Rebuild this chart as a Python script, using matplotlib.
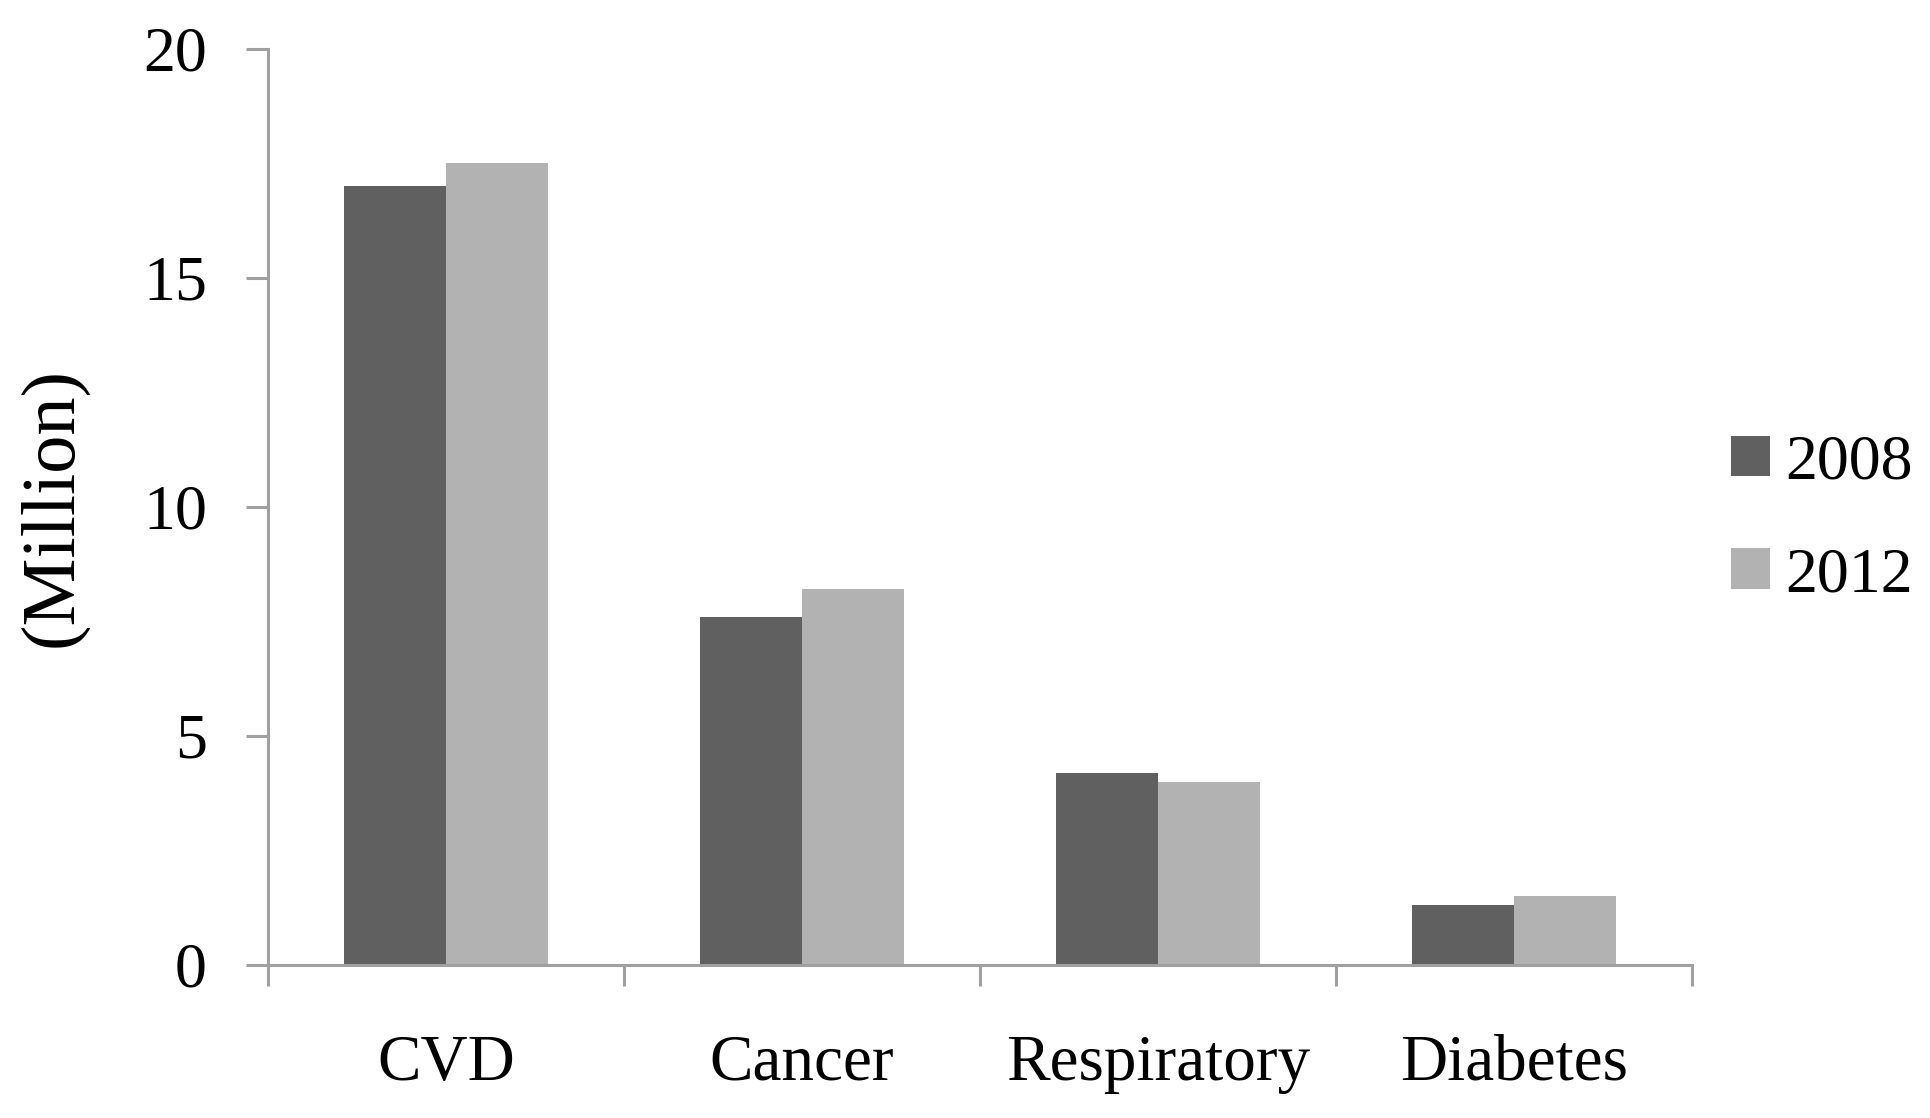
import matplotlib.pyplot as plt
import numpy as np

# Datos
categories = ['CVD', 'Cancer', 'Respiratory', 'Diabetes']
years = ['2008', '2012']
deaths_2008 = [17.0, 7.6, 4.2, 1.3]
deaths_2012 = [17.5, 8.2, 4.0, 1.5]

colors = {'2008': '#606060', '2012': '#b2b2b2'}
axis_color = '#a0a0a0'

plt.rcParams['font.family'] = ['Liberation Serif', 'DejaVu Serif']

fig = plt.figure(figsize=(19.3, 11.18), dpi=100)
ax = fig.add_axes([0.1389, 0.1369, 0.8768 - 0.1389, 0.9562 - 0.1369])

x = np.arange(len(categories))
w = 0.287
ax.bar(x - w / 2, deaths_2008, width=w, color=colors['2008'], label='2008')
ax.bar(x + w / 2, deaths_2012, width=w, color=colors['2012'], label='2012')

ax.set_xlim(-0.5, len(categories) - 0.5)
ax.set_ylim(0, 20)
ax.set_yticks([0, 5, 10, 15, 20])

# Ejes
for side in ['top', 'right']:
    ax.spines[side].set_visible(False)
for side in ['left', 'bottom']:
    ax.spines[side].set_color(axis_color)
    ax.spines[side].set_linewidth(2.2)

ax.set_xticks(x)
ax.set_xticklabels(categories)
ax.set_xticks(np.arange(-0.5, len(categories)), minor=True)
ax.tick_params(axis='x', which='major', length=0, pad=50, labelsize=47)
ax.tick_params(axis='x', which='minor', length=15, width=2.2, color=axis_color, direction='out')
ax.tick_params(axis='y', length=16, width=2.2, color=axis_color, pad=28, labelsize=46)

ax.set_ylabel('(Million)', fontsize=55, labelpad=40)

# Leyenda
ax.legend(loc='center left', bbox_to_anchor=(0.897, 0.535), bbox_transform=fig.transFigure,
          frameon=False, fontsize=46, handlelength=0.6, handleheight=0.6,
          handletextpad=0.25, labelspacing=0.85, borderpad=0, borderaxespad=0)

fig.savefig('out.png', dpi=100)
